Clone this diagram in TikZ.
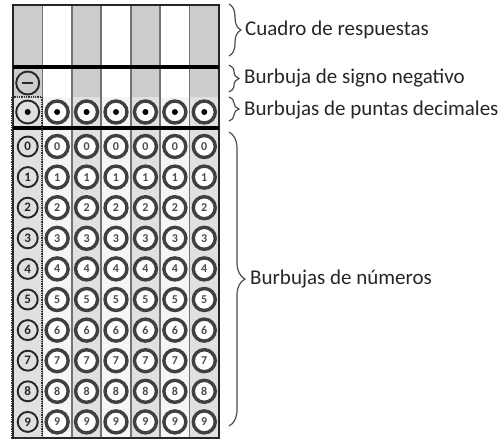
\documentclass[tikz,border=0pt]{standalone}
\usepackage{fontspec}
\setmainfont{Carlito}
\usetikzlibrary{decorations.pathreplacing}
\begin{document}
\begin{tikzpicture}[x=1pt,y=-1pt,
  lbl/.style={anchor=west,font=\fontsize{21}{24}\selectfont,text=black!85,inner sep=0pt},
  brc/.style={decorate,decoration={brace,amplitude=#1},draw=black!70,line width=1.2pt},
  firstbub/.style={circle,draw=black!85,line width=1.9pt,minimum size=20pt,inner sep=0pt,
    font=\fontsize{13}{13}\selectfont\bfseries,text=black!85},
  bub/.style={circle,draw=black!75,fill=white,line width=3.4pt,minimum size=22pt,inner sep=0pt,
    font=\fontsize{12}{12}\selectfont\bfseries,text=black!70},
  colline/.style={draw=black!55,line width=1.8pt},
  thickline/.style={draw=black,line width=3.2pt},
  dotfill/.style={fill=black}]
\useasboundingbox (0,0) rectangle (504,440);
\pgfmathsetmacro{\W}{206/7}
% column backgrounds
\foreach \i in {0,2,4,6}{
  \fill[black!20] ({13+\i*\W},5) rectangle ({13+(\i+1)*\W},97);
  \fill[black!12] ({13+\i*\W},97) rectangle ({13+(\i+1)*\W},438);
}
\foreach \i in {1,3,5}{
  \fill[black!4] ({13+\i*\W},97) rectangle ({13+(\i+1)*\W},438);
}
% column lines
\foreach \i in {1,...,6}{
  \draw[colline] ({13+\i*\W},5) -- ({13+\i*\W},438);
}
% outer frame and thick lines
\draw[draw=black!85,line width=1.8pt] (13,5) rectangle (219,438);
\draw[thickline] (13,67) -- (219,67);
\draw[thickline] (13,128) -- (219,128);
% dotted box around the first column
\draw[black!80,densely dotted,line width=1.3pt] (12,97) rectangle (42,438);
% negative sign bubble
\node[firstbub,minimum size=23pt] (neg) at ({13+0.5*\W},83) {};
\draw[line width=2.8pt,black!85] ([xshift=-5.5pt]neg.center) -- ([xshift=5.5pt]neg.center);
% decimal bubbles
\node[firstbub,minimum size=23pt] (dec0) at ({13+0.5*\W},112) {};
\fill[dotfill] (dec0.center) circle (3);
\foreach \c in {1,...,6}{
  \node[bub] (dec\c) at ({13+(\c+0.5)*\W},112) {};
  \fill[dotfill] (dec\c.center) circle (3);
}
% number bubbles
\foreach \r in {0,...,9}{
  \node[firstbub] (n0-\r) at ({13+0.5*\W},{146.5+\r*30.6}) {\r};
  \foreach \c in {1,...,6}{
    \node[bub] (n\c-\r) at ({13+(\c+0.5)*\W},{146.5+\r*30.6}) {\r};
  }
}
% braces and labels
\coordinate (b1t) at (229,4);
\coordinate (b1b) at (229,56);
\coordinate (b2t) at (229,65);
\coordinate (b2b) at (229,92);
\coordinate (b3t) at (229,97);
\coordinate (b3b) at (229,121);
\coordinate (b4t) at (229,132);
\coordinate (b4b) at (229,426);
\draw[brc=12pt] (b1t) -- (b1b);
\draw[brc=10pt] (b2t) -- (b2b);
\draw[brc=10pt] (b3t) -- (b3b);
\draw[brc=16pt] (b4t) -- (b4b);
\node[lbl] (t1) at (245,30) {Cuadro de respuestas};
\node[lbl] (t2) at (244,78) {Burbuja de signo negativo};
\node[lbl] (t3) at (244,110) {Burbujas de puntas decimales};
\node[lbl] (t4) at (250,279) {Burbujas de números};
\end{tikzpicture}
\end{document}
